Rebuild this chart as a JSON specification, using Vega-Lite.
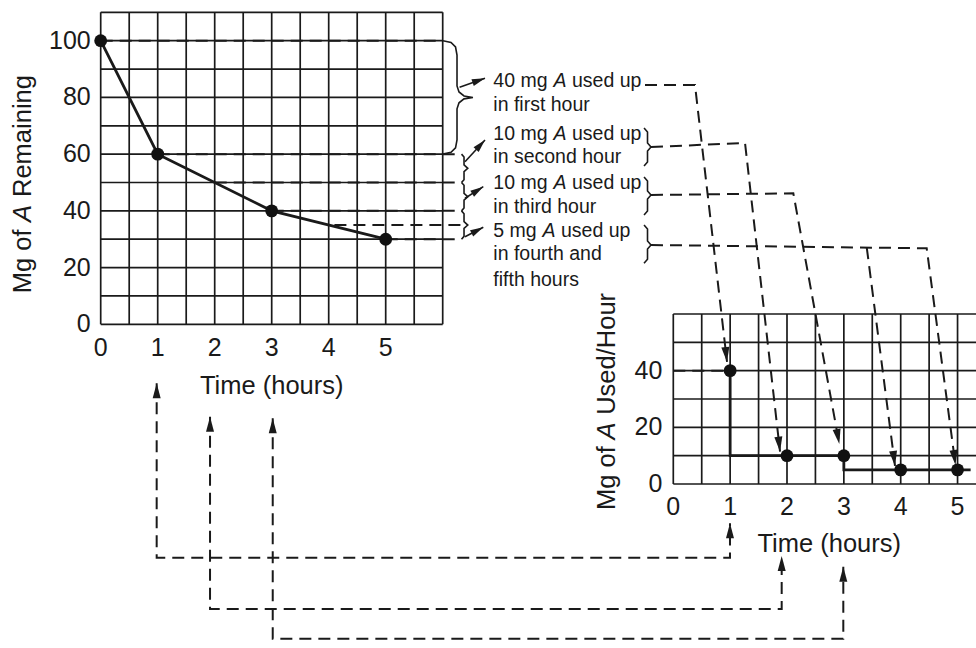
{
"$schema": "https://vega.github.io/schema/vega-lite/v6.json",
"width": 976, "height": 648, "padding": 0,
"autosize": {"type": "none"},
"background": "#ffffff",
"config": {"view": {"stroke": null}, "text": {"font": "Liberation Sans", "color": "#1a1a1a"}},
"datasets": {
 "gridLv": [{"x":0},{"x":0.5},{"x":1},{"x":1.5},{"x":2},{"x":2.5},{"x":3},{"x":3.5},{"x":4},{"x":4.5},{"x":5},{"x":5.5},{"x":6}],
 "gridLh": [{"y":0},{"y":10},{"y":20},{"y":30},{"y":40},{"y":50},{"y":60},{"y":70},{"y":80},{"y":90},{"y":100},{"y":110}],
 "guideL": [{"x":0,"x2":6.005,"y":100},{"x":1,"x2":6.33,"y":60},{"x":2,"x2":6.33,"y":50},{"x":3,"x2":6.33,"y":40},{"x":4.1,"x2":6.33,"y":35},{"x":5,"x2":6.33,"y":30}],
 "remaining": [{"t":0,"mg":100},{"t":1,"mg":60},{"t":3,"mg":40},{"t":5,"mg":30}],
 "ticksLy": [{"v":0,"label":"0"},{"v":20,"label":"20"},{"v":40,"label":"40"},{"v":60,"label":"60"},{"v":80,"label":"80"},{"v":100,"label":"100"}],
 "ticksLx": [{"v":0,"label":"0"},{"v":1,"label":"1"},{"v":2,"label":"2"},{"v":3,"label":"3"},{"v":4,"label":"4"},{"v":5,"label":"5"}],
 "titleL": [{"y":10.93,"label":"Mg of"},{"y":44.89,"label":"Remaining"}],
 "braces": [
  {"id":"b1","i":0,"x":6.005,"y":100},{"id":"b1","i":1,"x":6.146,"y":99.37},{"id":"b1","i":2,"x":6.225,"y":97.78},{"id":"b1","i":3,"x":6.251,"y":94.96},{"id":"b1","i":4,"x":6.251,"y":84.03},{"id":"b1","i":5,"x":6.286,"y":81.91},{"id":"b1","i":6,"x":6.374,"y":80.5},{"id":"b1","i":7,"x":6.53,"y":80},{"id":"b1","i":8,"x":6.374,"y":79.5},{"id":"b1","i":9,"x":6.286,"y":78.09},{"id":"b1","i":10,"x":6.251,"y":75.97},{"id":"b1","i":11,"x":6.251,"y":65.04},{"id":"b1","i":12,"x":6.225,"y":62.22},{"id":"b1","i":13,"x":6.146,"y":60.63},{"id":"b1","i":14,"x":6.005,"y":60},
  {"id":"s1","i":0,"x":6.33,"y":60},{"id":"s1","i":1,"x":6.374,"y":59},{"id":"s1","i":2,"x":6.374,"y":56.2},{"id":"s1","i":3,"x":6.44,"y":55},{"id":"s1","i":4,"x":6.374,"y":53.8},{"id":"s1","i":5,"x":6.374,"y":51},{"id":"s1","i":6,"x":6.33,"y":50},
  {"id":"s2","i":0,"x":6.33,"y":50},{"id":"s2","i":1,"x":6.374,"y":49},{"id":"s2","i":2,"x":6.374,"y":46.2},{"id":"s2","i":3,"x":6.44,"y":45},{"id":"s2","i":4,"x":6.374,"y":43.8},{"id":"s2","i":5,"x":6.374,"y":41},{"id":"s2","i":6,"x":6.33,"y":40},
  {"id":"s3","i":0,"x":6.33,"y":40},{"id":"s3","i":1,"x":6.374,"y":39},{"id":"s3","i":2,"x":6.374,"y":36.2},{"id":"s3","i":3,"x":6.44,"y":35},{"id":"s3","i":4,"x":6.374,"y":33.8},{"id":"s3","i":5,"x":6.374,"y":31},{"id":"s3","i":6,"x":6.33,"y":30},
  {"id":"r2","i":0,"x":9.532,"y":69.22},{"id":"r2","i":1,"x":9.593,"y":67.81},{"id":"r2","i":2,"x":9.593,"y":63.93},{"id":"r2","i":3,"x":9.654,"y":62.52},{"id":"r2","i":4,"x":9.593,"y":61.11},{"id":"r2","i":5,"x":9.593,"y":57.23},{"id":"r2","i":6,"x":9.532,"y":55.82},
  {"id":"r3","i":0,"x":9.532,"y":51.94},{"id":"r3","i":1,"x":9.593,"y":50.53},{"id":"r3","i":2,"x":9.593,"y":47.0},{"id":"r3","i":3,"x":9.654,"y":45.59},{"id":"r3","i":4,"x":9.593,"y":44.18},{"id":"r3","i":5,"x":9.593,"y":39.95},{"id":"r3","i":6,"x":9.532,"y":38.54},
  {"id":"r4","i":0,"x":9.532,"y":35.01},{"id":"r4","i":1,"x":9.593,"y":33.6},{"id":"r4","i":2,"x":9.593,"y":29.37},{"id":"r4","i":3,"x":9.654,"y":27.96},{"id":"r4","i":4,"x":9.593,"y":26.55},{"id":"r4","i":5,"x":9.593,"y":22.92},{"id":"r4","i":6,"x":9.532,"y":21.51}
 ],
 "arrowLines": [
  {"id":"a1","i":0,"x":6.296,"y":83.57},{"id":"a1","i":1,"x":6.742,"y":86.74},
  {"id":"a2","i":0,"x":6.391,"y":57.33},{"id":"a2","i":1,"x":6.742,"y":64.99},
  {"id":"a3","i":0,"x":6.391,"y":44.43},{"id":"a3","i":1,"x":6.712,"y":48.52},
  {"id":"a4","i":0,"x":6.391,"y":30.89},{"id":"a4","i":1,"x":6.712,"y":34.2}
 ],
 "arrowHeadsSmall": [{"x":6.742,"y":86.74,"a":250.7},{"x":6.742,"y":64.99,"a":222.6},{"x":6.712,"y":48.52,"a":237.7},{"x":6.712,"y":34.2,"a":242.8}],
 "connectors": [
  {"id":"c1","i":0,"x":9.549,"y":84.38},{"id":"c1","i":1,"x":10.426,"y":84.38},{"id":"c1","i":2,"x":10.988,"y":-13.29},
  {"id":"c2","i":0,"x":9.654,"y":62.52},{"id":"c2","i":1,"x":11.304,"y":63.93},{"id":"c2","i":2,"x":11.918,"y":-44.92},
  {"id":"c3","i":0,"x":9.654,"y":45.59},{"id":"c3","i":1,"x":12.151,"y":46.19},{"id":"c3","i":2,"x":12.958,"y":-42.21},
  {"id":"c4","i":0,"x":9.654,"y":27.96},{"id":"c4","i":1,"x":14.491,"y":26.8},{"id":"c4","i":2,"x":14.996,"y":-49.61},
  {"id":"c5","i":0,"x":13.439,"y":27.15},{"id":"c5","i":1,"x":13.935,"y":-49.96},
  {"id":"l1","i":0,"x":0.982,"y":-20.8},{"id":"l1","i":1,"x":0.982,"y":-82.3},{"id":"l1","i":2,"x":11.04,"y":-82.3},{"id":"l1","i":3,"x":11.04,"y":-70.17},
  {"id":"l2","i":0,"x":1.918,"y":-32.58},{"id":"l2","i":1,"x":1.918,"y":-100.39},{"id":"l2","i":2,"x":11.947,"y":-100.39},{"id":"l2","i":3,"x":11.947,"y":-81.7},
  {"id":"l3","i":0,"x":3.018,"y":-33.15},{"id":"l3","i":1,"x":3.018,"y":-110.86},{"id":"l3","i":2,"x":13.028,"y":-110.86},{"id":"l3","i":3,"x":13.028,"y":-85.47}
 ],
 "arrowHeads": [
  {"x":10.988,"y":-13.29,"a":353.4},{"x":11.918,"y":-44.92,"a":353.5},{"x":12.958,"y":-42.21,"a":349.6},{"x":14.996,"y":-49.61,"a":352.4},{"x":13.935,"y":-49.96,"a":352.6},
  {"x":0.982,"y":-20.8,"a":180},{"x":1.918,"y":-32.58,"a":180},{"x":3.018,"y":-33.15,"a":180},
  {"x":11.04,"y":-70.17,"a":180},{"x":11.947,"y":-81.7,"a":180},{"x":13.028,"y":-85.47,"a":180}
 ],
 "annoText": [
  {"x":6.888,"y":83.57,"label":"40 mg"},{"x":8.268,"y":83.57,"label":"used up"},
  {"x":6.888,"y":75.32,"label":"in first hour"},
  {"x":6.888,"y":64.99,"label":"10 mg"},{"x":8.268,"y":64.99,"label":"used up"},
  {"x":6.888,"y":56.77,"label":"in second hour"},
  {"x":6.888,"y":47.6,"label":"10 mg"},{"x":8.268,"y":47.6,"label":"used up"},
  {"x":6.888,"y":39.14,"label":"in third hour"},
  {"x":6.888,"y":30.89,"label":"5 mg"},{"x":8.075,"y":30.89,"label":"used up"},
  {"x":6.888,"y":22.67,"label":"in fourth and"},
  {"x":6.888,"y":13.5,"label":"fifth hours"}
 ],
 "annoA": [{"x":7.944,"y":83.57,"label":"A"},{"x":7.944,"y":64.99,"label":"A"},{"x":7.944,"y":47.6,"label":"A"},{"x":7.751,"y":30.89,"label":"A"}],
 "gridRv": [{"x":0},{"x":0.5},{"x":1},{"x":1.5},{"x":2},{"x":2.5},{"x":3},{"x":3.5},{"x":4},{"x":4.5},{"x":5}],
 "gridRh": [{"y":0},{"y":10},{"y":20},{"y":30},{"y":40},{"y":50},{"y":60}],
 "guideR": [{"x":0,"x2":1,"y":40}],
 "usedStep": [{"i":0,"t":1,"mg":40},{"i":1,"t":1,"mg":10},{"i":2,"t":3,"mg":10},{"i":3,"t":3,"mg":5},{"i":4,"t":5.23,"mg":5}],
 "usedPts": [{"t":1,"mg":40},{"t":2,"mg":10},{"t":3,"mg":10},{"t":4,"mg":5},{"t":5,"mg":5}],
 "ticksRy": [{"v":0,"label":"0"},{"v":20,"label":"20"},{"v":40,"label":"40"}],
 "ticksRx": [{"v":0,"label":"0"},{"v":1,"label":"1"},{"v":2,"label":"2"},{"v":3,"label":"3"},{"v":4,"label":"4"},{"v":5,"label":"5"}],
 "titleR": [{"y":-9.18,"label":"Mg of"},{"y":24.42,"label":"Used/Hour"}]
},
"layer": [
 {"layer": [
  {"data": {"name": "gridLv"}, "mark": {"type": "rule", "color": "#1a1a1a", "strokeWidth": 1.7},
   "encoding": {"x": {"field": "x", "type": "quantitative", "scale": {"domain": [-1.7667, 15.356], "nice": false, "zero": false}, "axis": null},
    "y": {"datum": 0, "type": "quantitative", "scale": {"domain": [-114.14, 114.35], "nice": false, "zero": false}, "axis": null},
    "y2": {"datum": 110}}},
  {"data": {"name": "gridLh"}, "mark": {"type": "rule", "color": "#1a1a1a", "strokeWidth": 1.7},
   "encoding": {"y": {"field": "y", "type": "quantitative", "scale": {"domain": [-114.14, 114.35], "nice": false, "zero": false}, "axis": null},
    "x": {"datum": 0, "type": "quantitative", "scale": {"domain": [-1.7667, 15.356], "nice": false, "zero": false}, "axis": null},
    "x2": {"datum": 6}}},
  {"data": {"name": "guideL"}, "mark": {"type": "rule", "color": "#1a1a1a", "strokeWidth": 2, "strokeDash": [12, 7]},
   "encoding": {"x": {"field": "x", "type": "quantitative", "scale": {"domain": [-1.7667, 15.356], "nice": false, "zero": false}, "axis": null},
    "x2": {"field": "x2"},
    "y": {"field": "y", "type": "quantitative", "scale": {"domain": [-114.14, 114.35], "nice": false, "zero": false}, "axis": null}}},
  {"data": {"name": "remaining"}, "mark": {"type": "line", "color": "#1a1a1a", "strokeWidth": 2.8},
   "encoding": {"x": {"field": "t", "type": "quantitative", "scale": {"domain": [-1.7667, 15.356], "nice": false, "zero": false}, "axis": null},
    "y": {"field": "mg", "type": "quantitative", "scale": {"domain": [-114.14, 114.35], "nice": false, "zero": false}, "axis": null}}},
  {"data": {"name": "remaining"}, "mark": {"type": "point", "filled": true, "color": "#111111", "opacity": 1, "size": 165},
   "encoding": {"x": {"field": "t", "type": "quantitative", "scale": {"domain": [-1.7667, 15.356], "nice": false, "zero": false}, "axis": null},
    "y": {"field": "mg", "type": "quantitative", "scale": {"domain": [-114.14, 114.35], "nice": false, "zero": false}, "axis": null}}},
  {"data": {"name": "ticksLy"}, "mark": {"type": "text", "align": "right", "baseline": "middle", "fontSize": 25},
   "encoding": {"x": {"datum": -0.175, "type": "quantitative", "scale": {"domain": [-1.7667, 15.356], "nice": false, "zero": false}, "axis": null},
    "y": {"field": "v", "type": "quantitative", "scale": {"domain": [-114.14, 114.35], "nice": false, "zero": false}, "axis": null},
    "text": {"field": "label"}}},
  {"data": {"name": "ticksLx"}, "mark": {"type": "text", "align": "center", "baseline": "middle", "fontSize": 25},
   "encoding": {"x": {"field": "v", "type": "quantitative", "scale": {"domain": [-1.7667, 15.356], "nice": false, "zero": false}, "axis": null},
    "y": {"datum": -8.3, "type": "quantitative", "scale": {"domain": [-114.14, 114.35], "nice": false, "zero": false}, "axis": null},
    "text": {"field": "label"}}},
  {"data": {"values": [{"label": "Time (hours)"}]}, "mark": {"type": "text", "align": "center", "baseline": "middle", "fontSize": 25.5},
   "encoding": {"x": {"datum": 3.0, "type": "quantitative", "scale": {"domain": [-1.7667, 15.356], "nice": false, "zero": false}, "axis": null},
    "y": {"datum": -21.6, "type": "quantitative", "scale": {"domain": [-114.14, 114.35], "nice": false, "zero": false}, "axis": null},
    "text": {"field": "label"}}},
  {"data": {"name": "titleL"}, "mark": {"type": "text", "align": "left", "baseline": "middle", "fontSize": 25.5, "angle": 270},
   "encoding": {"x": {"datum": -1.358, "type": "quantitative", "scale": {"domain": [-1.7667, 15.356], "nice": false, "zero": false}, "axis": null},
    "y": {"field": "y", "type": "quantitative", "scale": {"domain": [-114.14, 114.35], "nice": false, "zero": false}, "axis": null},
    "text": {"field": "label"}}},
  {"data": {"values": [{"label": "A"}]}, "mark": {"type": "text", "align": "left", "baseline": "middle", "fontSize": 25.5, "angle": 270, "fontStyle": "italic"},
   "encoding": {"x": {"datum": -1.358, "type": "quantitative", "scale": {"domain": [-1.7667, 15.356], "nice": false, "zero": false}, "axis": null},
    "y": {"datum": 36.07, "type": "quantitative", "scale": {"domain": [-114.14, 114.35], "nice": false, "zero": false}, "axis": null},
    "text": {"field": "label"}}},
  {"data": {"name": "braces"}, "mark": {"type": "line", "color": "#1a1a1a", "strokeWidth": 1.6},
   "encoding": {"x": {"field": "x", "type": "quantitative", "scale": {"domain": [-1.7667, 15.356], "nice": false, "zero": false}, "axis": null},
    "y": {"field": "y", "type": "quantitative", "scale": {"domain": [-114.14, 114.35], "nice": false, "zero": false}, "axis": null},
    "detail": {"field": "id", "type": "nominal"}, "order": {"field": "i", "type": "quantitative"}}},
  {"data": {"name": "arrowLines"}, "mark": {"type": "line", "color": "#1a1a1a", "strokeWidth": 1.6},
   "encoding": {"x": {"field": "x", "type": "quantitative", "scale": {"domain": [-1.7667, 15.356], "nice": false, "zero": false}, "axis": null},
    "y": {"field": "y", "type": "quantitative", "scale": {"domain": [-114.14, 114.35], "nice": false, "zero": false}, "axis": null},
    "detail": {"field": "id", "type": "nominal"}, "order": {"field": "i", "type": "quantitative"}}},
  {"data": {"name": "arrowHeadsSmall"}, "mark": {"type": "point", "shape": "M0,0L-1,-3.75L1,-3.75Z", "filled": true, "color": "#1a1a1a", "opacity": 1, "size": 49},
   "encoding": {"x": {"field": "x", "type": "quantitative", "scale": {"domain": [-1.7667, 15.356], "nice": false, "zero": false}, "axis": null},
    "y": {"field": "y", "type": "quantitative", "scale": {"domain": [-114.14, 114.35], "nice": false, "zero": false}, "axis": null},
    "angle": {"field": "a", "type": "quantitative", "scale": null}}},
  {"data": {"name": "connectors"}, "mark": {"type": "line", "color": "#1a1a1a", "strokeWidth": 2, "strokeDash": [12, 7]},
   "encoding": {"x": {"field": "x", "type": "quantitative", "scale": {"domain": [-1.7667, 15.356], "nice": false, "zero": false}, "axis": null},
    "y": {"field": "y", "type": "quantitative", "scale": {"domain": [-114.14, 114.35], "nice": false, "zero": false}, "axis": null},
    "detail": {"field": "id", "type": "nominal"}, "order": {"field": "i", "type": "quantitative"}}},
  {"data": {"name": "arrowHeads"}, "mark": {"type": "point", "shape": "M0,0L-1,-3.75L1,-3.75Z", "filled": true, "color": "#1a1a1a", "opacity": 1, "size": 64},
   "encoding": {"x": {"field": "x", "type": "quantitative", "scale": {"domain": [-1.7667, 15.356], "nice": false, "zero": false}, "axis": null},
    "y": {"field": "y", "type": "quantitative", "scale": {"domain": [-114.14, 114.35], "nice": false, "zero": false}, "axis": null},
    "angle": {"field": "a", "type": "quantitative", "scale": null}}},
  {"data": {"name": "annoText"}, "mark": {"type": "text", "align": "left", "baseline": "alphabetic", "fontSize": 19.5},
   "encoding": {"x": {"field": "x", "type": "quantitative", "scale": {"domain": [-1.7667, 15.356], "nice": false, "zero": false}, "axis": null},
    "y": {"field": "y", "type": "quantitative", "scale": {"domain": [-114.14, 114.35], "nice": false, "zero": false}, "axis": null},
    "text": {"field": "label"}}},
  {"data": {"name": "annoA"}, "mark": {"type": "text", "align": "left", "baseline": "alphabetic", "fontSize": 19.5, "fontStyle": "italic"},
   "encoding": {"x": {"field": "x", "type": "quantitative", "scale": {"domain": [-1.7667, 15.356], "nice": false, "zero": false}, "axis": null},
    "y": {"field": "y", "type": "quantitative", "scale": {"domain": [-114.14, 114.35], "nice": false, "zero": false}, "axis": null},
    "text": {"field": "label"}}}
 ]},
 {"layer": [
  {"data": {"name": "gridRv"}, "mark": {"type": "rule", "color": "#1a1a1a", "strokeWidth": 1.7},
   "encoding": {"x": {"field": "x", "type": "quantitative", "scale": {"domain": [-11.843, 5.3245], "nice": false, "zero": false}, "axis": null},
    "y": {"datum": 0, "type": "quantitative", "scale": {"domain": [-57.88, 170.82], "nice": false, "zero": false}, "axis": null},
    "y2": {"datum": 60}}},
  {"data": {"name": "gridRh"}, "mark": {"type": "rule", "color": "#1a1a1a", "strokeWidth": 1.7},
   "encoding": {"y": {"field": "y", "type": "quantitative", "scale": {"domain": [-57.88, 170.82], "nice": false, "zero": false}, "axis": null},
    "x": {"datum": 0, "type": "quantitative", "scale": {"domain": [-11.843, 5.3245], "nice": false, "zero": false}, "axis": null},
    "x2": {"datum": 5.3245}}},
  {"data": {"name": "guideR"}, "mark": {"type": "rule", "color": "#1a1a1a", "strokeWidth": 2, "strokeDash": [12, 7]},
   "encoding": {"x": {"field": "x", "type": "quantitative", "scale": {"domain": [-11.843, 5.3245], "nice": false, "zero": false}, "axis": null},
    "x2": {"field": "x2"},
    "y": {"field": "y", "type": "quantitative", "scale": {"domain": [-57.88, 170.82], "nice": false, "zero": false}, "axis": null}}},
  {"data": {"name": "usedStep"}, "mark": {"type": "line", "color": "#1a1a1a", "strokeWidth": 2.8},
   "encoding": {"x": {"field": "t", "type": "quantitative", "scale": {"domain": [-11.843, 5.3245], "nice": false, "zero": false}, "axis": null},
    "y": {"field": "mg", "type": "quantitative", "scale": {"domain": [-57.88, 170.82], "nice": false, "zero": false}, "axis": null},
    "order": {"field": "i", "type": "quantitative"}}},
  {"data": {"name": "usedPts"}, "mark": {"type": "point", "filled": true, "color": "#111111", "opacity": 1, "size": 165},
   "encoding": {"x": {"field": "t", "type": "quantitative", "scale": {"domain": [-11.843, 5.3245], "nice": false, "zero": false}, "axis": null},
    "y": {"field": "mg", "type": "quantitative", "scale": {"domain": [-57.88, 170.82], "nice": false, "zero": false}, "axis": null}}},
  {"data": {"name": "ticksRy"}, "mark": {"type": "text", "align": "right", "baseline": "middle", "fontSize": 25},
   "encoding": {"x": {"datum": -0.193, "type": "quantitative", "scale": {"domain": [-11.843, 5.3245], "nice": false, "zero": false}, "axis": null},
    "y": {"field": "v", "type": "quantitative", "scale": {"domain": [-57.88, 170.82], "nice": false, "zero": false}, "axis": null},
    "text": {"field": "label"}}},
  {"data": {"name": "ticksRx"}, "mark": {"type": "text", "align": "center", "baseline": "middle", "fontSize": 25},
   "encoding": {"x": {"field": "v", "type": "quantitative", "scale": {"domain": [-11.843, 5.3245], "nice": false, "zero": false}, "axis": null},
    "y": {"datum": -8.2, "type": "quantitative", "scale": {"domain": [-57.88, 170.82], "nice": false, "zero": false}, "axis": null},
    "text": {"field": "label"}}},
  {"data": {"values": [{"label": "Time (hours)"}]}, "mark": {"type": "text", "align": "center", "baseline": "middle", "fontSize": 25.5},
   "encoding": {"x": {"datum": 2.742, "type": "quantitative", "scale": {"domain": [-11.843, 5.3245], "nice": false, "zero": false}, "axis": null},
    "y": {"datum": -21.3, "type": "quantitative", "scale": {"domain": [-57.88, 170.82], "nice": false, "zero": false}, "axis": null},
    "text": {"field": "label"}}},
  {"data": {"name": "titleR"}, "mark": {"type": "text", "align": "left", "baseline": "middle", "fontSize": 25.5, "angle": 270},
   "encoding": {"x": {"datum": -1.166, "type": "quantitative", "scale": {"domain": [-11.843, 5.3245], "nice": false, "zero": false}, "axis": null},
    "y": {"field": "y", "type": "quantitative", "scale": {"domain": [-57.88, 170.82], "nice": false, "zero": false}, "axis": null},
    "text": {"field": "label"}}},
  {"data": {"values": [{"label": "A"}]}, "mark": {"type": "text", "align": "left", "baseline": "middle", "fontSize": 25.5, "angle": 270, "fontStyle": "italic"},
   "encoding": {"x": {"datum": -1.166, "type": "quantitative", "scale": {"domain": [-11.843, 5.3245], "nice": false, "zero": false}, "axis": null},
    "y": {"datum": 15.71, "type": "quantitative", "scale": {"domain": [-57.88, 170.82], "nice": false, "zero": false}, "axis": null},
    "text": {"field": "label"}}}
 ]}
],
"resolve": {"scale": {"x": "independent", "y": "independent"}}
}
